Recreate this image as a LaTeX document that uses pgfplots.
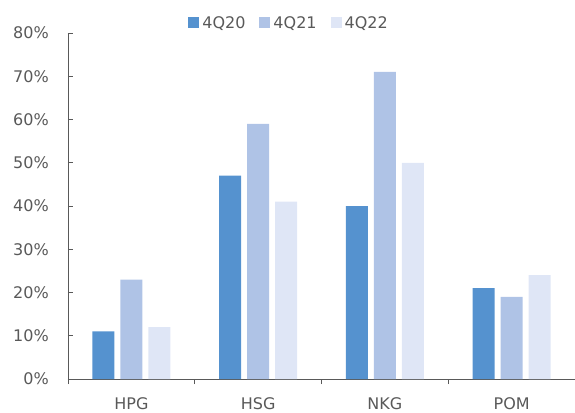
\documentclass[border=0pt]{standalone}
\usepackage{fontspec}
\setmainfont{DejaVu Sans}
\usepackage{pgfplots}
\pgfplotsset{compat=1.18}

\definecolor{q20}{HTML}{5592CF}
\definecolor{q21}{HTML}{AFC3E6}
\definecolor{q22}{HTML}{DFE6F6}
\definecolor{txt}{HTML}{595959}
\definecolor{axl}{HTML}{595959}

\pgfplotstableread{
x  q20 q21 q22
0  11  23  12
1  47  59  41
2  40  71  50
3  21  19  24
}\sharedata

\begin{document}
\begin{tikzpicture}
\begin{axis}[
  name=main,
  scale only axis,
  width=507pt, height=346pt,
  ybar=6pt, bar width=22pt,
  xmin=-0.5, xmax=3.5,
  ymin=0, ymax=80,
  axis lines*=left,
  axis line style={axl, line width=0.8pt},
  every tick/.style={axl, line width=0.8pt},
  xtick={0,1,2,3},
  xticklabels={HPG,HSG,NKG,POM},
  major x tick style={draw=none},
  minor xtick={-0.5,0.5,1.5,2.5,3.5},
  minor tick length=5pt,
  major tick length=5pt,
  ytick={0,10,...,80},
  yticklabel={\pgfmathprintnumber{\tick}\%},
  /pgf/number format/assume math mode=true,
  tick label style={font=\fontsize{16}{19}\selectfont, text=txt, inner sep=0pt},
  yticklabel style={xshift=-19pt},
  xticklabel style={yshift=-13pt},
  legend columns=3,
  legend style={draw=none, fill=none, inner sep=0pt,
    at={(0.237,1)}, anchor=south west, yshift=3pt,
    font=\fontsize{16}{19}\selectfont, text=txt,
    nodes={inner xsep=3pt, inner ysep=0pt},
    /tikz/every odd column/.append style={column sep=0pt},
    /tikz/every even column/.append style={column sep=11pt}},
  legend image code/.code={\fill[#1] (0pt,-5pt) rectangle (11pt,6pt);},
  clip=false,
]
\addplot[fill=q20, draw=none] table[x=x, y=q20] {\sharedata};
\addplot[fill=q21, draw=none] table[x=x, y=q21] {\sharedata};
\addplot[fill=q22, draw=none] table[x=x, y=q22] {\sharedata};
\legend{4Q20,4Q21,4Q22}
\end{axis}
\pgfresetboundingbox
\path ([shift={(-68pt,-33pt)}]main.south west) rectangle ([shift={(507pt,379pt)}]main.south west);
\end{tikzpicture}
\end{document}
